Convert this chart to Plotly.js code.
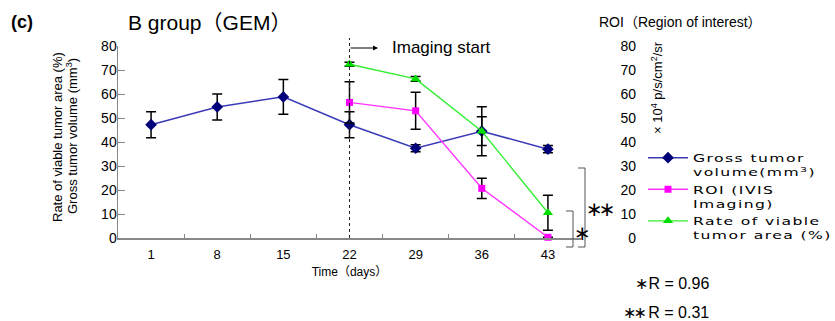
<!DOCTYPE html>
<html><head><meta charset="utf-8">
<script src="https://cdn.plot.ly/plotly-3.0.1.min.js"></script>
<style>
body{margin:0;background:#fff}
.legendtext{letter-spacing:1px;transform:scaleX(1.42);transform-box:fill-box;transform-origin:left center}
</style>
</head><body><div id="chart" style="width:835px;height:321px"></div>
<script>
// ---- data ----
const days = ['1', '8', '15', '22', '29', '36', '43'];
const volume = [47.2, 54.6, 58.8, 47.2, 37.4, 44.5, 37.0];
const volumeErr = [5.4, 5.4, 7.2, 5.4, 1.5, 6.0, 1.5];
const imagingDays = ['22', '29', '36', '43'];
const roi = [56.5, 53.0, 20.7, 0.3];
const roiErr = [8.6, 7.7, 4.2, 0];
const viable = [72.4, 66.3, 44.5, 10.5];
const viableErr = [0.8, 1.0, 10.2, 7.3];
const yTicks = [0, 10, 20, 30, 40, 50, 60, 70, 80];
const names = ['Gross tumor<br>volume(mm<sup>3</sup>)', 'ROI (IVIS<br>Imaging)', 'Rate of viable<br>tumor area (%)'];

// ---- pixel helpers for decorations ----
const L = 118, T = 46, PW = 717, PH = 192;
const px = x => (x - L) / PW;
const py = y => (T + PH - y) / PH;
const FONT = 'Liberation Sans, Arial, Noto Sans CJK JP, sans-serif';
const STAR = 'DejaVu Sans, sans-serif';
const errStyle = {type: 'data', visible: true, color: '#000', thickness: 1.5, width: 5};

const traces = [
  {x: days, y: volume, name: names[0], type: 'scatter', mode: 'lines+markers',
   line: {color: '#3a3ab8', width: 1.5}, marker: {symbol: 'diamond', size: 9, color: '#00007a'},
   error_y: Object.assign({array: volumeErr}, errStyle), cliponaxis: false},
  {x: imagingDays, y: roi, name: names[1], type: 'scatter', mode: 'lines+markers', yaxis: 'y2',
   line: {color: '#ff33ff', width: 1.4}, marker: {symbol: 'square', size: 7, color: '#ff00ff'},
   error_y: Object.assign({array: roiErr}, errStyle), cliponaxis: false},
  {x: imagingDays, y: viable, name: names[2], type: 'scatter', mode: 'lines+markers',
   line: {color: '#33ee33', width: 1.4}, marker: {symbol: 'triangle-up', size: 9, color: '#00dd00'},
   error_y: Object.assign({array: viableErr}, errStyle), cliponaxis: false}
];

const layout = {
  width: 835, height: 321,
  margin: {l: L, r: 0, t: T, b: 83, autoexpand: false},
  paper_bgcolor: '#fff', plot_bgcolor: 'rgba(0,0,0,0)',
  font: {family: FONT, color: '#000'},
  showlegend: true,
  legend: {x: px(643), y: py(144), xanchor: 'left', yanchor: 'top', valign: 'top',
    font: {family: 'DejaVu Sans, sans-serif', size: 11, color: '#000'},
    tracegroupgap: 0, itemwidth: 40, bgcolor: 'rgba(0,0,0,0)'},
  xaxis: {type: 'category', domain: [0, 463 / PW], range: [-0.5, 6.5],
    categoryorder: 'array', categoryarray: days,
    showline: true, linecolor: '#888', linewidth: 1.5,
    ticks: 'inside', tickson: 'boundaries', ticklen: 4, tickcolor: '#888', tickwidth: 1,
    showgrid: false, zeroline: false, tickfont: {size: 13, family: FONT},
    ticklabelstandoff: 4,
    title: {text: 'Time（days）', font: {size: 12, family: FONT}, standoff: 6}},
  yaxis: {range: [0, 80], tickvals: yTicks, showline: true, linecolor: '#888', linewidth: 1.5,
    ticks: 'inside', ticklen: 7, tickcolor: '#888', tickwidth: 1,
    showgrid: false, zeroline: false, tickfont: {size: 14, family: FONT}, ticklabelstandoff: -3},
  yaxis2: {range: [0, 80], tickvals: yTicks, overlaying: 'y', side: 'left', anchor: 'free',
    position: px(636), showline: false, ticks: '', showgrid: false, zeroline: false,
    tickfont: {size: 14, family: FONT}},
  shapes: [
    {type: 'line', xref: 'x', yref: 'paper', x0: 3, x1: 3, y0: 0, y1: py(38),
     line: {color: '#222', width: 1, dash: '3px,3px'}},
    {type: 'path', xref: 'paper', yref: 'paper',
     path: `M${px(578)},${py(168)} L${px(585)},${py(168)} L${px(585)},${py(247)} L${px(578)},${py(247)}`,
     line: {color: '#555', width: 1}},
    {type: 'path', xref: 'paper', yref: 'paper',
     path: `M${px(566)},${py(211)} L${px(573)},${py(211)} L${px(573)},${py(247)} L${px(566)},${py(247)}`,
     line: {color: '#555', width: 1}}
  ],
  annotations: [
    {xref: 'paper', yref: 'paper', x: px(9), y: py(22), xanchor: 'left', yanchor: 'middle',
     text: '<b>(c)</b>', showarrow: false, font: {size: 18, family: FONT}},
    {xref: 'paper', yref: 'paper', x: px(126), y: py(22), xanchor: 'left', yanchor: 'middle',
     text: 'B group（GEM）', showarrow: false, font: {size: 21, family: FONT}},
    {xref: 'paper', yref: 'paper', x: px(597), y: py(22), xanchor: 'left', yanchor: 'middle',
     text: 'ROI（Region of interest）', showarrow: false, font: {size: 14, family: FONT}},
    {xref: 'paper', yref: 'paper', x: px(390), y: py(48), xanchor: 'left', yanchor: 'middle',
     text: 'Imaging start', showarrow: false, font: {size: 17, family: FONT}},
    {xref: 'paper', yref: 'paper', x: px(378), y: py(48), text: '', showarrow: true,
     ax: -29, ay: 0, arrowhead: 2, arrowsize: 1, arrowwidth: 1, arrowcolor: '#000', standoff: 0},
    {xref: 'paper', yref: 'paper', x: px(57), y: py(137), textangle: -90, xanchor: 'center', yanchor: 'middle',
     text: 'Rate of viable tumor area (%)', showarrow: false, font: {size: 13, family: FONT}},
    {xref: 'paper', yref: 'paper', x: px(72), y: py(136), textangle: -90, xanchor: 'center', yanchor: 'middle',
     text: 'Gross tumor volume (mm<sup>3</sup>)', showarrow: false, font: {size: 13, family: FONT}},
    {xref: 'paper', yref: 'paper', x: px(657), y: py(88), textangle: -90, xanchor: 'center', yanchor: 'middle',
     text: '× 10<sup>4</sup> p/s/cm<sup>2</sup>/sr', showarrow: false, font: {size: 13, family: FONT}},
    {xref: 'paper', yref: 'paper', x: px(600), y: py(209), xanchor: 'center', yanchor: 'middle',
     text: '<span style="letter-spacing:-4px">∗∗</span>', showarrow: false, font: {size: 20, family: STAR}},
    {xref: 'paper', yref: 'paper', x: px(582), y: py(233), xanchor: 'center', yanchor: 'middle',
     text: '∗', showarrow: false, font: {size: 20, family: STAR}},
    {xref: 'paper', yref: 'paper', x: px(711), y: py(283), xanchor: 'right', yanchor: 'middle',
     text: '<span style="font-family:DejaVu Sans">∗</span>R = 0.96', showarrow: false, font: {size: 16, family: FONT}},
    {xref: 'paper', yref: 'paper', x: px(711), y: py(312), xanchor: 'right', yanchor: 'middle',
     text: '<span style="font-family:DejaVu Sans;letter-spacing:-3px">∗∗</span> R = 0.31', showarrow: false, font: {size: 16, family: FONT}}
  ]
};

Plotly.newPlot('chart', traces, layout, {staticPlot: true, displayModeBar: false});
</script></body></html>
